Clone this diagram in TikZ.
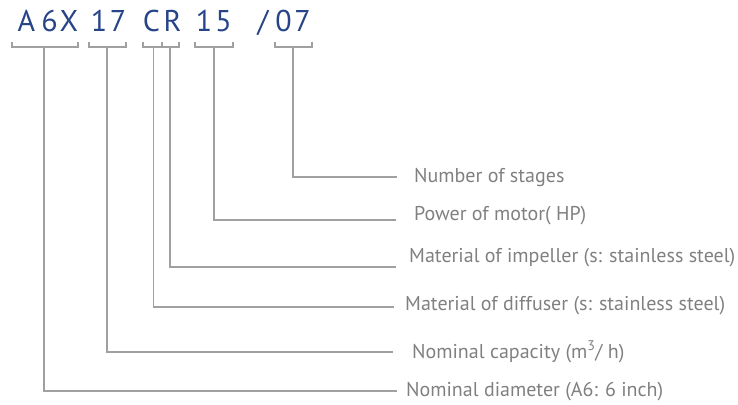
\documentclass[tikz,border=0pt]{standalone}
\usepackage{fontspec}
\setmainfont{PT Sans}
\definecolor{codeblue}{RGB}{38,68,135}
\definecolor{linegray}{RGB}{160,160,160}
\definecolor{textgray}{RGB}{128,128,128}
\begin{document}
\begin{tikzpicture}[x=1pt,y=-1pt,
  codechar/.style={anchor=base,inner sep=0pt,text=codeblue,font=\fontsize{30}{30}\selectfont},
  lbl/.style={anchor=base west,inner sep=0pt,text=textgray,font=\fontsize{20}{20}\selectfont},
  gline/.style={draw=linegray,line width=1.5pt}]
\useasboundingbox (0,0) rectangle (738,404);
% code characters
\node[codechar] (cA) at (26.5,32) {A};
\node[codechar] (c6) at (49.5,32) {6};
\node[codechar] (cX) at (69,32) {X};
\node[codechar] (c1) at (99,32) {1};
\node[codechar] (c7) at (118,32) {7};
\node[codechar] (cC) at (151.5,32) {C};
\node[codechar] (cR) at (172.5,32) {R};
\node[codechar] (d1) at (204,32) {1};
\node[codechar] (d5) at (223.5,32) {5};
\node[codechar] (ds) at (263,32) {/};
\node[codechar] (d0) at (283.5,32) {0};
\node[codechar] (d7) at (302.5,32) {7};
% brackets
\draw[gline] (12,42) -- (12,47) -- (78,47) -- (78,42);
\draw[gline] (89,42) -- (89,47) -- (126,47) -- (126,42);
\draw[gline] (143,42) -- (143,47) -- (179,47) -- (179,42);
\draw[gline] (162,42) -- (162,47);
\draw[gline] (195,42) -- (195,47) -- (233,47) -- (233,42);
\draw[gline] (275,42) -- (275,47) -- (312,47) -- (312,42);
% stem starts
\coordinate (s1) at (44,47);
\coordinate (s2) at (107,47);
\coordinate (s3) at (153.5,47);
\coordinate (s4) at (170,47);
\coordinate (s5) at (214,47);
\coordinate (s6) at (293,47);
% line ends
\coordinate (e6) at (397,177);
\coordinate (e5) at (396,220);
\coordinate (e4) at (396,267);
\coordinate (e3) at (394,307);
\coordinate (e2) at (393,352);
\coordinate (e1) at (397,391);
\draw[gline] (s6) |- (e6);
\draw[gline] (s5) |- (e5);
\draw[gline] (s4) |- (e4);
\draw[gline] (s3) |- (e3);
\draw[gline] (s2) |- (e2);
\draw[gline] (s1) |- (e1);
% labels
\node[lbl] (l6) at (414,182) {Number of stages};
\node[lbl] (l5) at (414,220) {Power of motor( HP)};
\node[lbl] (l4) at (409,262) {Material of impeller (s: stainless steel)};
\node[lbl] (l3) at (405,310) {Material of diffuser (s: stainless steel)};
\node[lbl] (l2) at (412,358) {Nominal capacity (m\textsuperscript{3}/ h)};
\node[lbl] (l1) at (406,396) {Nominal diameter (A6: 6 inch)};
\end{tikzpicture}
\end{document}
